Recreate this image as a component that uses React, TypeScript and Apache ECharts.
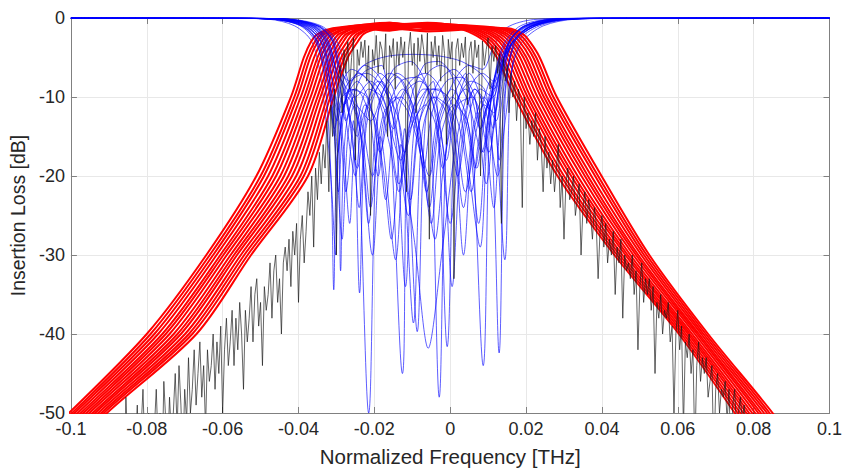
import React, { useEffect, useRef } from "react";
import * as echarts from "echarts";

// ---- axes ----
const xMin = -0.1;
const xMax = 0.1;
const xStep = 0.02;
const yMin = -50;
const yMax = 0;
const yStep = 10;
const xName = "Normalized Frequency [THz]";
const yName = "Insertion Loss [dB]";

// ---- red (transmission) curves: x position at fixed dB levels ----
const redLeftLevels = [-56, -50, -40, -30, -20, -10, -5, -3, -2, -1.3];
const redRightLevels = [-1.3, -2, -3, -5, -10, -20, -30, -40, -50, -56];
const redPlateauX = [-0.016, -0.006];

const redLeftX = [
  [-0.114, -0.1005, -0.08, -0.0643, -0.0511, -0.042, -0.0386, -0.0367, -0.0349, -0.031],
  [-0.1131, -0.0997, -0.079, -0.0634, -0.05, -0.0411, -0.0377, -0.0357, -0.0339, -0.03],
  [-0.1123, -0.099, -0.078, -0.0625, -0.0491, -0.0403, -0.0369, -0.0349, -0.0331, -0.0292],
  [-0.1114, -0.0982, -0.077, -0.0616, -0.048, -0.0394, -0.0359, -0.0339, -0.0321, -0.0282],
  [-0.1104, -0.0974, -0.0759, -0.0606, -0.0469, -0.0385, -0.035, -0.0329, -0.0311, -0.0273],
  [-0.1096, -0.0967, -0.075, -0.0598, -0.0459, -0.0377, -0.0342, -0.032, -0.0303, -0.0264],
  [-0.1087, -0.0959, -0.074, -0.0589, -0.0448, -0.0368, -0.0333, -0.031, -0.0293, -0.0255],
  [-0.1078, -0.0951, -0.0729, -0.0579, -0.0438, -0.0359, -0.0323, -0.0301, -0.0284, -0.0245],
  [-0.1069, -0.0943, -0.0719, -0.057, -0.0427, -0.035, -0.0314, -0.0291, -0.0274, -0.0236],
  [-0.1061, -0.0936, -0.071, -0.0562, -0.0417, -0.0342, -0.0306, -0.0282, -0.0266, -0.0227],
  [-0.1051, -0.0928, -0.0699, -0.0552, -0.0406, -0.0333, -0.0297, -0.0272, -0.0256, -0.0218],
  [-0.1042, -0.092, -0.0689, -0.0543, -0.0395, -0.0324, -0.0287, -0.0262, -0.0246, -0.0208],
  [-0.1034, -0.0913, -0.068, -0.0534, -0.0386, -0.0316, -0.0279, -0.0254, -0.0238, -0.02],
  [-0.1025, -0.0905, -0.0669, -0.0525, -0.0375, -0.0307, -0.027, -0.0244, -0.0228, -0.019],
];

const redPlateauY = [
  [-0.7, -0.9], [-1.1, -0.8], [-0.6, -1.2], [-1.4, -1.0], [-0.9, -0.6],
  [-1.2, -1.5], [-0.8, -1.1], [-1.6, -0.9], [-1.0, -0.7], [-0.6, -1.3],
  [-1.3, -1.7], [-0.9, -1.0], [-1.5, -0.8], [-1.1, -1.2],
];

const redRightX = [
  [0.002, 0.006, 0.0092, 0.0123, 0.017, 0.0283, 0.0433, 0.0603, 0.075, 0.083],
  [0.003, 0.007, 0.0101, 0.0132, 0.0179, 0.0292, 0.044, 0.0609, 0.0758, 0.0839],
  [0.004, 0.008, 0.011, 0.014, 0.0187, 0.03, 0.0447, 0.0615, 0.0765, 0.0847],
  [0.005, 0.009, 0.0119, 0.0149, 0.0196, 0.031, 0.0454, 0.0621, 0.0773, 0.0855],
  [0.006, 0.0101, 0.0129, 0.0158, 0.0204, 0.0319, 0.0462, 0.0627, 0.0781, 0.0864],
  [0.0069, 0.011, 0.0137, 0.0166, 0.0212, 0.0327, 0.0468, 0.0632, 0.0788, 0.0872],
  [0.008, 0.012, 0.0146, 0.0175, 0.0221, 0.0336, 0.0475, 0.0638, 0.0796, 0.0881],
  [0.009, 0.0131, 0.0156, 0.0184, 0.023, 0.0346, 0.0483, 0.0645, 0.0804, 0.0889],
  [0.0101, 0.0141, 0.0165, 0.0193, 0.0239, 0.0355, 0.049, 0.0651, 0.0812, 0.0898],
  [0.011, 0.015, 0.0173, 0.0201, 0.0247, 0.0363, 0.0496, 0.0656, 0.0819, 0.0906],
  [0.012, 0.0161, 0.0183, 0.021, 0.0255, 0.0372, 0.0504, 0.0662, 0.0827, 0.0915],
  [0.0131, 0.0171, 0.0192, 0.0219, 0.0264, 0.0382, 0.0511, 0.0668, 0.0835, 0.0924],
  [0.014, 0.0181, 0.0201, 0.0227, 0.0272, 0.039, 0.0518, 0.0674, 0.0842, 0.0931],
  [0.015, 0.0191, 0.021, 0.0236, 0.0281, 0.0399, 0.0525, 0.068, 0.085, 0.094],
];

// ---- blue (reflection) curves: [x, dB] ----
const blueCurves = [
  [[-0.1,0],[-0.06,-0.02],[-0.048,-0.15],[-0.041,-1],[-0.0365,-3],[-0.034,-8],[-0.0315,-20],[-0.0307,-34.4],[-0.0298,-18],[-0.027,-10],[-0.0239,-14],[-0.0215,-26],[-0.019,-12],[-0.014,-7.5],[-0.0097,-12],[-0.0055,-20],[-0.003,-13],[0.001,-8],[0.005,-6],[0.0085,-6.5],[0.0115,-3.5],[0.015,-1.2],[0.022,-0.2],[0.035,-0.02],[0.1,0]],
  [[-0.1,0],[-0.06,-0.02],[-0.046,-0.15],[-0.0385,-1],[-0.034,-3],[-0.0315,-7],[-0.029,-14],[-0.0275,-22],[-0.0255,-13],[-0.0239,-34.8],[-0.0222,-14],[-0.018,-8],[-0.0144,-15],[-0.0118,-34],[-0.0095,-14],[-0.006,-9],[-0.0029,-48],[-0.0005,-12],[0.004,-7],[0.0087,-44],[0.0105,-12],[0.013,-5],[0.016,-2.5],[0.0205,-1],[0.028,-0.15],[0.04,-0.02],[0.1,0]],
  [[-0.1,0],[-0.06,-0.02],[-0.045,-0.12],[-0.036,-1],[-0.0325,-3],[-0.0305,-7],[-0.028,-11],[-0.0255,-9],[-0.0215,-50],[-0.019,-12],[-0.015,-6.5],[-0.0105,-5.5],[-0.0058,-9],[-0.002,-16],[0.0005,-34],[0.003,-16],[0.0065,-9],[0.0104,-12],[0.0129,-42.4],[0.0145,-10],[0.017,-3],[0.0215,-1],[0.03,-0.15],[0.045,-0.02],[0.1,0]],
  [[-0.1,0],[-0.06,-0.02],[-0.047,-0.15],[-0.039,-1],[-0.035,-3],[-0.0325,-7.5],[-0.0295,-13],[-0.0289,-32],[-0.0275,-14],[-0.023,-7],[-0.018,-6],[-0.0126,-45],[-0.011,-12],[-0.007,-6],[-0.003,-5.5],[0.001,-8],[0.0045,-18],[0.0079,-29],[0.01,-13],[0.0125,-6],[0.015,-3],[0.0195,-1],[0.027,-0.15],[0.04,-0.02],[0.1,0]],
  [[-0.1,0],[-0.06,-0.02],[-0.045,-0.12],[-0.0355,-1],[-0.0315,-3],[-0.0295,-6],[-0.0265,-9],[-0.023,-16],[-0.021,-24],[-0.0185,-15],[-0.0144,-30.6],[-0.012,-14],[-0.0087,-39.7],[-0.0065,-13],[-0.003,-8],[0.001,-6.5],[0.005,-9],[0.008,-14],[0.0105,-10],[0.0135,-5],[0.0165,-2.6],[0.0225,-0.9],[0.032,-0.12],[0.05,-0.02],[0.1,0]],
  [[-0.1,0],[-0.06,-0.02],[-0.046,-0.15],[-0.0375,-1],[-0.0335,-3],[-0.031,-8],[-0.0288,-12],[-0.0265,-9],[-0.022,-10],[-0.018,-18],[-0.0155,-28],[-0.013,-16],[-0.0097,-38.6],[-0.0075,-15],[-0.004,-10],[0.0005,-12],[0.004,-22],[0.007,-14],[0.0105,-8],[0.0144,-30.6],[0.0158,-9],[0.018,-3],[0.0235,-1],[0.032,-0.15],[0.05,-0.02],[0.1,0]],
  [[-0.1,0],[-0.06,-0.02],[-0.044,-0.12],[-0.035,-1],[-0.031,-3],[-0.029,-6.5],[-0.0265,-8],[-0.0225,-6],[-0.018,-8],[-0.0135,-16],[-0.0095,-28],[-0.0058,-41.8],[-0.002,-29],[0.0015,-16],[0.005,-9],[0.0085,-7],[0.0115,-8],[0.014,-6],[0.0165,-3],[0.0215,-1],[0.03,-0.15],[0.045,-0.02],[0.1,0]],
  [[-0.1,0],[-0.06,-0.02],[-0.047,-0.15],[-0.0395,-1],[-0.0355,-3],[-0.033,-7],[-0.031,-12],[-0.0295,-22],[-0.0278,-11],[-0.024,-6.5],[-0.018,-5],[-0.01,-4.6],[-0.003,-4.8],[0.003,-5.5],[0.008,-7],[0.0115,-9],[0.0135,-6],[0.016,-3],[0.0205,-1],[0.029,-0.15],[0.045,-0.02],[0.1,0]],
  [[-0.1,0],[-0.06,-0.02],[-0.044,-0.12],[-0.0345,-1],[-0.0305,-3],[-0.0285,-7],[-0.026,-14],[-0.024,-24],[-0.022,-12],[-0.0185,-7],[-0.015,-9],[-0.012,-17],[-0.0087,-11],[-0.0045,-8],[-0.0008,-41.6],[0.0015,-12],[0.005,-7],[0.0085,-11],[0.0115,-24],[0.0135,-11],[0.0165,-4],[0.0205,-1.5],[0.0285,-0.2],[0.045,-0.02],[0.1,0]],
  [[-0.1,0],[-0.06,-0.02],[-0.046,-0.15],[-0.0375,-1],[-0.0335,-3],[-0.0315,-9],[-0.03,-18],[-0.0285,-28],[-0.027,-15],[-0.025,-11],[-0.021,-13],[-0.0175,-9],[-0.014,-7],[-0.01,-9],[-0.0065,-20],[-0.004,-28],[-0.0015,-18],[0.002,-11],[0.006,-10],[0.0087,-17],[0.011,-12],[0.0135,-6],[0.0165,-3],[0.021,-1],[0.03,-0.15],[0.045,-0.02],[0.1,0]],
  [[-0.1,0],[-0.06,-0.02],[-0.043,-0.12],[-0.034,-1],[-0.0298,-3],[-0.0275,-7],[-0.025,-10],[-0.021,-8],[-0.017,-11],[-0.0135,-21],[-0.0105,-14],[-0.0065,-11],[-0.003,-15],[0,-26],[0.003,-14],[0.0065,-9],[0.0095,-12],[0.0125,-20],[0.0145,-13],[0.0165,-6],[0.019,-3],[0.0245,-1],[0.033,-0.15],[0.05,-0.02],[0.1,0]],
  [[-0.1,0],[-0.06,-0.02],[-0.045,-0.15],[-0.0365,-1],[-0.0325,-3],[-0.0305,-6],[-0.0275,-10],[-0.0245,-19],[-0.022,-11],[-0.019,-8],[-0.0155,-10],[-0.011,-25],[-0.0085,-14],[-0.0045,-9],[-0.0005,-10],[0.003,-15],[0.0055,-22],[0.008,-14],[0.011,-10],[0.0129,-18],[0.0145,-9],[0.017,-3],[0.0225,-1],[0.031,-0.15],[0.05,-0.02],[0.1,0]],
  [[-0.1,0],[-0.06,-0.02],[-0.044,-0.12],[-0.035,-1],[-0.031,-3],[-0.0292,-8],[-0.0275,-13],[-0.0255,-10],[-0.023,-14],[-0.0205,-20],[-0.0175,-12],[-0.013,-10],[-0.009,-14],[-0.0062,-22],[-0.0035,-13],[0.0005,-9],[0.004,-12],[0.007,-19],[0.0093,-12],[0.012,-7],[0.0155,-4],[0.0185,-2.2],[0.0235,-0.8],[0.032,-0.12],[0.05,-0.02],[0.1,0]],
  [[-0.1,0],[-0.06,-0.02],[-0.046,-0.15],[-0.038,-1],[-0.034,-3],[-0.032,-7],[-0.0305,-15],[-0.029,-9],[-0.026,-6.5],[-0.0215,-8],[-0.017,-12],[-0.013,-18],[-0.0095,-11],[-0.006,-7],[-0.0025,-6],[0.0015,-7.5],[0.005,-11],[0.0083,-17],[0.0105,-11],[0.0125,-5.5],[0.0145,-3],[0.0185,-1],[0.026,-0.15],[0.04,-0.02],[0.1,0]],
  [[-0.1,0],[-0.06,-0.02],[-0.045,-0.12],[-0.0368,-1],[-0.0328,-3],[-0.0302,-8],[-0.0282,-16],[-0.0265,-26],[-0.025,-15],[-0.0215,-9],[-0.018,-10],[-0.015,-14],[-0.012,-9.5],[-0.008,-8],[-0.004,-10.5],[-0.001,-18],[0.0015,-11],[0.0055,-8],[0.009,-9],[0.0113,-14],[0.013,-8],[0.0155,-3],[0.0195,-1],[0.028,-0.15],[0.045,-0.02],[0.1,0]],
  [[-0.1,0],[-0.06,-0.02],[-0.044,-0.12],[-0.0358,-1],[-0.032,-3],[-0.03,-7],[-0.0278,-12],[-0.025,-20],[-0.0232,-13],[-0.0195,-9],[-0.016,-7],[-0.0125,-8],[-0.0095,-12],[-0.007,-19],[-0.0048,-12],[-0.001,-8],[0.003,-7.5],[0.0065,-10],[0.0095,-21],[0.0118,-12],[0.0145,-5],[0.0175,-2.5],[0.0225,-1],[0.031,-0.15],[0.05,-0.02],[0.1,0]],
  [[-0.1,0],[-0.06,-0.02],[-0.046,-0.15],[-0.037,-1],[-0.033,-3],[-0.0308,-9],[-0.0296,-17],[-0.028,-11],[-0.0245,-8],[-0.021,-11],[-0.0185,-17],[-0.016,-12],[-0.0125,-9],[-0.0085,-13],[-0.0055,-24],[-0.003,-14],[0.0005,-10],[0.0045,-14],[0.0075,-26],[0.0098,-13],[0.0125,-7],[0.015,-3.5],[0.019,-1.2],[0.027,-0.15],[0.045,-0.02],[0.1,0]],
  [[-0.1,0],[-0.06,-0.02],[-0.047,-0.15],[-0.0392,-1],[-0.0352,-3],[-0.0328,-9],[-0.0312,-22],[-0.0302,-30],[-0.0292,-15],[-0.026,-8],[-0.022,-7],[-0.0175,-9],[-0.0135,-13],[-0.0105,-23],[-0.008,-13],[-0.0045,-10],[-0.001,-12],[0.002,-20],[0.0045,-13],[0.008,-9],[0.0112,-10],[0.0132,-7],[0.0155,-3],[0.02,-1],[0.028,-0.15],[0.045,-0.02],[0.1,0]],
  [[-0.1,0],[-0.06,-0.02],[-0.045,-0.12],[-0.0362,-1],[-0.0322,-3],[-0.0298,-7],[-0.0272,-9],[-0.024,-13],[-0.0205,-30],[-0.018,-14],[-0.0145,-10],[-0.011,-12],[-0.0075,-18],[-0.005,-26],[-0.0025,-15],[0.001,-11],[0.0045,-13],[0.0065,-19],[0.009,-12],[0.0118,-9],[0.014,-5],[0.0168,-2.8],[0.0215,-1],[0.03,-0.15],[0.045,-0.02],[0.1,0]],
  [[-0.1,0],[-0.06,-0.02],[-0.046,-0.15],[-0.0382,-1],[-0.0342,-3],[-0.0318,-8],[-0.0298,-13],[-0.0278,-9],[-0.024,-7],[-0.0195,-9.5],[-0.016,-16],[-0.0135,-22],[-0.011,-14],[-0.007,-9],[-0.003,-9],[0.0005,-13],[0.0035,-24],[0.006,-14],[0.009,-10],[0.0121,-13],[0.0138,-8],[0.016,-3.5],[0.0205,-1.2],[0.029,-0.15],[0.045,-0.02],[0.1,0]],
  [[-0.1,0],[-0.06,-0.02],[-0.044,-0.12],[-0.0348,-1],[-0.0308,-3],[-0.0288,-7.5],[-0.0268,-12],[-0.0245,-15],[-0.0225,-11],[-0.0195,-13],[-0.017,-23],[-0.0145,-12],[-0.0105,-8],[-0.0065,-7],[-0.0025,-9],[0.001,-15],[0.0035,-30],[0.006,-15],[0.009,-11],[0.0115,-12],[0.0138,-7],[0.0162,-3.2],[0.021,-1.1],[0.03,-0.15],[0.045,-0.02],[0.1,0]],
  [[-0.1,0],[-0.06,-0.02],[-0.047,-0.15],[-0.0388,-1],[-0.0348,-3],[-0.0322,-8],[-0.0305,-14],[-0.0285,-10],[-0.025,-9],[-0.0215,-12],[-0.019,-20],[-0.0168,-12],[-0.013,-8],[-0.0085,-7.5],[-0.0045,-11],[-0.002,-19],[0.0005,-12],[0.004,-9],[0.0072,-11],[0.0102,-17],[0.0125,-10],[0.0148,-4],[0.0188,-1.3],[0.027,-0.15],[0.045,-0.02],[0.1,0]],
];

// ---- black (measured) trace: samples every 0.0005 starting at -0.088 ----
const blackStartX = -0.088;
const blackStepX = 0.0005;
const blackY = [
  -56,-51,-58,-53,-60,-48,-55,-62,-52,-57,
  -54,-49,-57,-52,-47,-55,-60,-50,-53,-58,
  -52,-47,-54,-50,-58,-46,-51,-55,-48,-53,
  -50,-45,-52,-44,-49,-56,-47,-51,-43,-50,
  -47,-42,-49,-45,-41,-48,-44,-52,-42,-46,
  -44,-40,-47,-41,-45,-39,-50,-42,-38,-44,
  -41,-37,-44,-38,-42,-36,-40,-47,-37,-41,
  -38,-34,-41,-35,-33,-39,-36,-44,-34,-37,
  -35,-31,-38,-32,-30,-36,-33,-40,-31,-29,
  -32,-28,-34,-27,-30,-26,-36,-28,-25,-31,
  -27,-22,-25,-20,-29,-19,-23,-17,-21,-16,
  -19,-13,-22,-11,-15,-9,-30,-8,-6,-12,
  -4,-7,-3,-9,-5,-2.5,-18,-4,-6,-3,
  -5,-2.8,-8,-3.5,-25,-4,-6,-2.2,-7,-3,
  -4,-6.5,-2,-15,-3.5,-5,-2.6,-9,-3,-6,
  -2.4,-5,-3,-22,-4,-1.8,-6,-3.2,-12,-2.5,
  -5.5,-2.1,-4,-7,-1.9,-28,-3,-5,-2.3,-6,
  -3.5,-8,-2.2,-4.5,-16,-2.7,-5.2,-3,-33,-4,
  -2.6,-6,-3.2,-5,-2.4,-11,-4.2,-3,-7,-2.8,
  -5,-3.4,-20,-2.9,-6,-4,-2.5,-9,-3.6,-5.5,
  -3.5,-7,-4.5,-26,-5,-8,-6,-12,-7,-10,
  -8,-13,-9,-11,-24,-10,-14,-12,-16,-13,
  -15,-12,-18,-14,-16,-22,-15,-19,-17,-21,
  -18,-22,-19,-16,-24,-20,-28,-21,-19,-23,
  -22,-20,-25,-23,-21,-30,-24,-22,-26,-23,
  -25,-28,-24,-26,-33,-27,-25,-29,-26,-31,
  -28,-30,-27,-35,-29,-31,-28,-38,-30,-32,
  -31,-33,-30,-35,-32,-42,-34,-31,-36,-33,
  -35,-33,-37,-34,-45,-36,-38,-35,-40,-37,
  -38,-36,-41,-39,-50,-40,-37,-42,-39,-52,
  -41,-43,-40,-45,-42,-55,-44,-41,-46,-43,
  -45,-43,-48,-46,-44,-56,-47,-45,-50,-47,
  -48,-46,-51,-47,-55,-49,-47,-52,-50,-48,
  -51,-49,-54,-50,-58,-52,-50,-55,-53,-51,
  -54,-52,-57,-53,-60,-55,-53,-58,-56,-54,
];

const FONT = "'Liberation Sans', Arial, Helvetica, sans-serif";
const TEXT = "#262626";
const AXIS = "#808080";

function buildOption() {
  const series: any[] = [];
  const n = Math.max(redLeftX.length, blueCurves.length);
  for (let k = 0; k < n; k++) {
    if (k < blueCurves.length) {
      series.push({
        type: "line",
        data: blueCurves[k],
        showSymbol: false,
        smooth: 0.3,
        lineStyle: { color: "#0000ff", width: 0.8, opacity: 0.8 },
        silent: true,
        z: 3,
      });
    }
    if (k < redLeftX.length) {
      const data: number[][] = [];
      redLeftLevels.forEach((lv, i) => data.push([redLeftX[k][i], lv]));
      redPlateauX.forEach((x, i) => data.push([x, redPlateauY[k][i]]));
      redRightLevels.forEach((lv, i) => data.push([redRightX[k][i], lv]));
      series.push({
        type: "line",
        data,
        showSymbol: false,
        smooth: 0.3,
        lineStyle: { color: "#ff0000", width: 2 },
        silent: true,
        z: 3,
      });
    }
  }
  series.push({
    type: "line",
    data: blackY.map((y, i) => [blackStartX + i * blackStepX, y]),
    showSymbol: false,
    lineStyle: { color: "#1a1a1a", width: 0.8, opacity: 0.85 },
    silent: true,
    z: 4,
  });

  const fmtX = (v: number) => String(parseFloat(v.toFixed(3)));

  return {
    animation: false,
    backgroundColor: "#ffffff",
    grid: { left: 69, right: 14, top: 18, bottom: 59, containLabel: false },
    xAxis: [
      {
        type: "value",
        min: xMin,
        max: xMax,
        interval: xStep,
        position: "bottom",
        name: xName,
        nameLocation: "middle",
        nameGap: 33,
        nameTextStyle: { color: TEXT, fontSize: 20.5, fontFamily: FONT },
        axisLine: { show: true, onZero: false, lineStyle: { color: AXIS, width: 1 } },
        axisTick: { show: true, inside: true, length: 6, lineStyle: { color: AXIS } },
        axisLabel: { color: TEXT, fontSize: 18, fontFamily: FONT, margin: 7, formatter: fmtX },
        splitLine: { show: true, lineStyle: { color: "#e8e8e8", width: 1 } },
      },
      {
        type: "value",
        min: xMin,
        max: xMax,
        interval: xStep,
        position: "top",
        axisLine: { show: true, onZero: false, lineStyle: { color: AXIS, width: 1 } },
        axisTick: { show: true, inside: true, length: 6, lineStyle: { color: AXIS } },
        axisLabel: { show: false },
        splitLine: { show: false },
      },
    ],
    yAxis: [
      {
        type: "value",
        min: yMin,
        max: yMax,
        interval: yStep,
        position: "left",
        name: yName,
        nameLocation: "middle",
        nameGap: 37,
        nameTextStyle: { color: TEXT, fontSize: 19.5, fontFamily: FONT },
        axisLine: { show: true, onZero: false, lineStyle: { color: AXIS, width: 1 } },
        axisTick: { show: true, inside: true, length: 6, lineStyle: { color: AXIS } },
        axisLabel: { color: TEXT, fontSize: 18, fontFamily: FONT, margin: 6 },
        splitLine: { show: true, lineStyle: { color: "#e8e8e8", width: 1 } },
      },
      {
        type: "value",
        min: yMin,
        max: yMax,
        interval: yStep,
        position: "right",
        axisLine: { show: true, onZero: false, lineStyle: { color: AXIS, width: 1 } },
        axisTick: { show: true, inside: true, length: 6, lineStyle: { color: AXIS } },
        axisLabel: { show: false },
        splitLine: { show: false },
      },
    ],
    series,
  };
}

export default function App() {
  const ref = useRef<HTMLDivElement>(null);
  useEffect(() => {
    if (!ref.current) return;
    const chart = echarts.init(ref.current, undefined, { renderer: "svg" });
    chart.setOption(buildOption() as any);
    return () => chart.dispose();
  }, []);
  return (
    <div
      ref={ref}
      style={{ position: "absolute", left: 0, top: 0, width: 845, height: 472, background: "#fff" }}
    />
  );
}
